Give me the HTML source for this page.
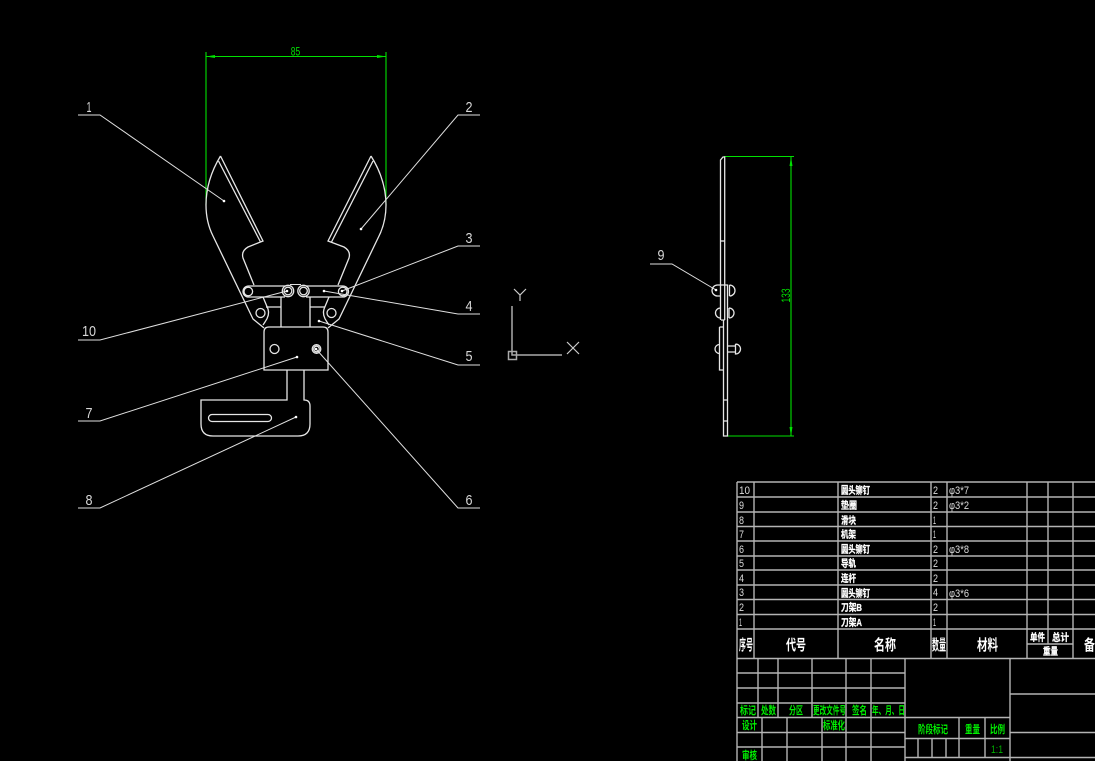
<!DOCTYPE html>
<html><head><meta charset="utf-8"><style>
html,body{margin:0;padding:0;background:#000;width:1095px;height:761px;overflow:hidden}
svg{display:block}
.w{fill:none;stroke:#e6e6e6;stroke-width:1.3}
.l{fill:none;stroke:#e0e0e0;stroke-width:1}
.g{fill:none;stroke:#00e000;stroke-width:1.100}
.t{fill:none;stroke:#b4b4b4;stroke-width:1.400}
text{font-family:"Liberation Sans","Noto Sans CJK SC",sans-serif}
.n{fill:#d8d8d8;font-size:15px}
.c{fill:#fff;font-size:10px;font-weight:700;stroke:#fff;stroke-width:.3}
.h{fill:#fff;font-size:15px;font-weight:700}
.s{fill:#ddd;font-size:11px}
.k{fill:#00f000;font-size:11px;font-weight:700}
</style></head><body>
<svg width="1095" height="761" viewBox="0 0 1095 761" xmlns="http://www.w3.org/2000/svg">
<rect width="1095" height="761" fill="#000"/>

<!-- dimensions -->
<path class="g" d="M206 52V205M386 52V205M206 56.500H386"/>
<path d="M206 56.500l9-1.500v3zM386 56.500l-9-1.500v3z" fill="#00e000"/>
<text x="295.500" y="55.500" text-anchor="middle" textLength="9.500" lengthAdjust="spacingAndGlyphs" style="fill:#00e000;font-size:12px">85</text>
<path class="g" d="M724 156.500H794M727 436H794M791 156.500V436"/>
<path d="M791 157l-1.500 9h3zM791 436l-1.500-9h3z" fill="#00e000"/>
<text transform="translate(790,295.500) rotate(-90)" text-anchor="middle" textLength="14" lengthAdjust="spacingAndGlyphs" style="fill:#00e000;font-size:12px">133</text>

<!-- left jaw -->
<path class="w" d="M220.500 156Q206 180 206 205Q206 222 213 236L253 319L264 328"/>
<path class="w" d="M220.500 156L263 241L248 247Q241 251 243 258L254 285"/>
<path class="w" d="M218.500 161L260.500 242"/>
<path class="w" d="M263 297L268 309Q270 315 265 322L263 325"/>
<circle class="w" cx="260.500" cy="313" r="4.500"/>
<!-- right jaw -->
<path class="w" d="M371 156Q386 180 386 205Q386 222 379 236L339 319L328 328"/>
<path class="w" d="M371 156L328 241L344 247Q351 251 349 258L338 285"/>
<path class="w" d="M373 161L331.500 242"/>
<path class="w" d="M329 297L324 309Q322 315 327 322L329 325"/>
<circle class="w" cx="331.500" cy="313" r="4.500"/>
<!-- links -->
<path class="w" d="M285 286H248.500A5.500 5.500 0 0 0 248.500 297H285"/>
<circle class="w" cx="248.300" cy="291.500" r="4.300"/>
<circle class="w" cx="288" cy="291" r="5.700"/>
<circle class="w" cx="288" cy="291" r="3.800"/>
<path class="w" d="M306 286H343A5.500 5.500 0 0 1 343 297H306"/>
<circle class="w" cx="342.700" cy="291.500" r="4.300"/>
<circle class="w" cx="303.500" cy="291" r="5.700"/>
<circle class="w" cx="303.500" cy="291" r="3.800"/>
<path class="l" d="M290 284.500H301"/>
<!-- stem and block -->
<path class="w" d="M281 297V327M310 297V327M266 307H281M310 307H325"/>
<path class="w" d="M264 370V332Q264 327 269 327H323Q328 327 328 332V370Z"/>
<circle class="w" cx="274.500" cy="349" r="4.500"/>
<circle class="w" cx="316.500" cy="349" r="4.300"/>
<circle class="w" cx="316.500" cy="349" r="2.800"/>
<path class="w" d="M287 370V400H201V424Q201 436 213 436H298Q310 436 310 424V406Q310 400 304 400V370"/>
<rect class="w" x="208.500" y="414.500" width="63" height="7" rx="3.500"/>

<!-- leaders -->
<path class="l" d="M78 115H100L224 201M480 115H458L361 229M480 246H458L342 291M480 314H458L324 291M480 365H458L319 321M480 508H458L316 349M78 421H100L297 357M78 508H100L296 417M78 340H100L287 291M650 264H672L716 290"/>
<g fill="#fff"><circle cx="224" cy="201" r="1.300"/><circle cx="361" cy="229" r="1.300"/><circle cx="342" cy="291" r="1.300"/><circle cx="324" cy="291" r="1.300"/><circle cx="319" cy="321" r="1.300"/><circle cx="316" cy="349" r="1.300"/><circle cx="297" cy="357" r="1.300"/><circle cx="296" cy="417" r="1.300"/><circle cx="287" cy="291" r="1.300"/><circle cx="716" cy="290" r="1.300"/></g>
<g class="n">
<text x="89" y="112" text-anchor="middle" textLength="5" lengthAdjust="spacingAndGlyphs">1</text>
<text x="469" y="112" text-anchor="middle" textLength="7" lengthAdjust="spacingAndGlyphs">2</text>
<text x="469" y="243" text-anchor="middle" textLength="7" lengthAdjust="spacingAndGlyphs">3</text>
<text x="469" y="311" text-anchor="middle" textLength="7" lengthAdjust="spacingAndGlyphs">4</text>
<text x="469" y="361" text-anchor="middle" textLength="7" lengthAdjust="spacingAndGlyphs">5</text>
<text x="469" y="505" text-anchor="middle" textLength="7" lengthAdjust="spacingAndGlyphs">6</text>
<text x="89" y="418" text-anchor="middle" textLength="7" lengthAdjust="spacingAndGlyphs">7</text>
<text x="89" y="505" text-anchor="middle" textLength="7" lengthAdjust="spacingAndGlyphs">8</text>
<text x="89" y="336" text-anchor="middle" textLength="14" lengthAdjust="spacingAndGlyphs">10</text>
<text x="661" y="260" text-anchor="middle" textLength="7" lengthAdjust="spacingAndGlyphs">9</text>
</g>

<!-- UCS -->
<path d="M512 306V355H562M508.500 351.500h8v8h-8z" fill="none" stroke="#aaa" stroke-width="1.500"/>
<path d="M514 289L520 295L526 289M520 295V301M567 342L579 354M579 342L567 354" fill="none" stroke="#ccc" stroke-width="1.200"/>

<!-- side view -->
<path class="w" d="M720.500 320V160L723 157H724.700V320"/>
<path class="w" d="M720.500 241H724.700"/>
<path class="w" d="M723.500 320V436H727.500V285H721"/>
<path class="w" d="M719.500 327H723.500M719.500 327V370H723.500M723.500 400H727.500M723.500 421H727.500M721 320H724.700"/>
<path class="w" d="M717.500 285A5.500 5.500 0 0 0 717.500 296M717.500 285H720.500M717.500 296H720.500"/>
<path class="w" d="M729.500 285A5.500 5.500 0 0 1 729.500 296M729.500 285V296"/>
<path class="w" d="M720.500 308A5 5 0 0 0 720.500 318"/>
<path class="w" d="M729 308A5 5 0 0 1 729 318M729 308V318"/>
<path class="w" d="M719.500 344.500A4.500 4.500 0 0 0 719.500 353.500"/>
<path class="w" d="M727.500 346H735.500M727.500 352H735.500M735.500 344A5 5 0 0 1 735.500 354V344"/>

<!-- parts table -->
<path class="t" d="M737 482H1095M737 497H1095M737 512H1095M737 526.500H1095M737 541H1095M737 556H1095M737 570H1095M737 585H1095M737 599.500H1095M737 614.500H1095M737 629H1095M737 658.500H1095M1027 644H1073"/>
<path class="t" d="M737 482V761M754 482V658M838 482V658M931 482V658M947 482V658M1027 482V658M1048 482V644M1073 482V658"/>
<g class="s">
<text x="739" y="494" textLength="11" lengthAdjust="spacingAndGlyphs">10</text>
<text x="739" y="509" textLength="5" lengthAdjust="spacingAndGlyphs">9</text>
<text x="739" y="524" textLength="5" lengthAdjust="spacingAndGlyphs">8</text>
<text x="739" y="538" textLength="5" lengthAdjust="spacingAndGlyphs">7</text>
<text x="739" y="553" textLength="5" lengthAdjust="spacingAndGlyphs">6</text>
<text x="739" y="567" textLength="5" lengthAdjust="spacingAndGlyphs">5</text>
<text x="739" y="582" textLength="5" lengthAdjust="spacingAndGlyphs">4</text>
<text x="739" y="596" textLength="5" lengthAdjust="spacingAndGlyphs">3</text>
<text x="739" y="611" textLength="5" lengthAdjust="spacingAndGlyphs">2</text>
<text x="739" y="626" textLength="3" lengthAdjust="spacingAndGlyphs">1</text>
<text x="933" y="494" textLength="5" lengthAdjust="spacingAndGlyphs">2</text>
<text x="933" y="509" textLength="5" lengthAdjust="spacingAndGlyphs">2</text>
<text x="933" y="524" textLength="3" lengthAdjust="spacingAndGlyphs">1</text>
<text x="933" y="538" textLength="3" lengthAdjust="spacingAndGlyphs">1</text>
<text x="933" y="553" textLength="5" lengthAdjust="spacingAndGlyphs">2</text>
<text x="933" y="567" textLength="5" lengthAdjust="spacingAndGlyphs">2</text>
<text x="933" y="582" textLength="5" lengthAdjust="spacingAndGlyphs">2</text>
<text x="933" y="596" textLength="5" lengthAdjust="spacingAndGlyphs">4</text>
<text x="933" y="611" textLength="5" lengthAdjust="spacingAndGlyphs">2</text>
<text x="933" y="626" textLength="3" lengthAdjust="spacingAndGlyphs">1</text>
<text x="949" y="494" textLength="20" lengthAdjust="spacingAndGlyphs">φ3*7</text>
<text x="949" y="509" textLength="20" lengthAdjust="spacingAndGlyphs">φ3*2</text>
<text x="949" y="553" textLength="20" lengthAdjust="spacingAndGlyphs">φ3*8</text>
<text x="949" y="597" textLength="20" lengthAdjust="spacingAndGlyphs">φ3*6</text>
</g>
<g class="c">
<text x="841" y="494" textLength="29" lengthAdjust="spacingAndGlyphs">圆头铆钉</text>
<text x="841" y="509" textLength="16" lengthAdjust="spacingAndGlyphs">垫圈</text>
<text x="841" y="524" textLength="15" lengthAdjust="spacingAndGlyphs">滑块</text>
<text x="841" y="538" textLength="15" lengthAdjust="spacingAndGlyphs">机架</text>
<text x="841" y="553" textLength="29" lengthAdjust="spacingAndGlyphs">圆头铆钉</text>
<text x="841" y="567" textLength="15" lengthAdjust="spacingAndGlyphs">导轨</text>
<text x="841" y="582" textLength="15" lengthAdjust="spacingAndGlyphs">连杆</text>
<text x="841" y="597" textLength="29" lengthAdjust="spacingAndGlyphs">圆头铆钉</text>
<text x="841" y="611" textLength="21" lengthAdjust="spacingAndGlyphs">刀架B</text>
<text x="841" y="626" textLength="21" lengthAdjust="spacingAndGlyphs">刀架A</text>
<text x="1030" y="641" textLength="15" lengthAdjust="spacingAndGlyphs">单件</text>
<text x="1052" y="641" textLength="17" lengthAdjust="spacingAndGlyphs">总计</text>
<text x="1043" y="655" textLength="15" lengthAdjust="spacingAndGlyphs">重量</text>
</g>
<g class="h">
<text x="739" y="650" textLength="14" lengthAdjust="spacingAndGlyphs">序号</text>
<text x="786" y="650" textLength="20" lengthAdjust="spacingAndGlyphs">代号</text>
<text x="874" y="650" textLength="22" lengthAdjust="spacingAndGlyphs">名称</text>
<text x="932" y="650" textLength="14" lengthAdjust="spacingAndGlyphs">数量</text>
<text x="977" y="650" textLength="21" lengthAdjust="spacingAndGlyphs">材料</text>
<text x="1084" y="650" textLength="11" lengthAdjust="spacingAndGlyphs">备</text>
</g>

<!-- title block -->
<path class="t" d="M737 673H905M737 688H905M737 703H905M737 717.500H905M737 732.500H905M737 747H905"/>
<path class="t" d="M758 659V717M778 659V717M812 659V717M846 659V761M871 659V761M905 659V761M762 717V761M787 717V761M822 717V761"/>
<path class="t" d="M905 717.500H1010M905 738.500H1010M905 757.500H1095M1010 659V761M959 717V757M985 717V757M918 738V757M932 738V757M946 738V757M1010 694H1095M1010 732.500H1095"/>
<g class="k">
<text x="740" y="714" textLength="16" lengthAdjust="spacingAndGlyphs">标记</text>
<text x="761" y="714" textLength="15" lengthAdjust="spacingAndGlyphs">处数</text>
<text x="789" y="714" textLength="14" lengthAdjust="spacingAndGlyphs">分区</text>
<text x="813" y="714" textLength="33" lengthAdjust="spacingAndGlyphs">更改文件号</text>
<text x="852" y="714" textLength="15" lengthAdjust="spacingAndGlyphs">签名</text>
<text x="872" y="714" textLength="33" lengthAdjust="spacingAndGlyphs">年、月、日</text>
<text x="742" y="729" textLength="15" lengthAdjust="spacingAndGlyphs">设计</text>
<text x="823" y="729" textLength="22" lengthAdjust="spacingAndGlyphs">标准化</text>
<text x="742" y="759" textLength="15" lengthAdjust="spacingAndGlyphs">审核</text>
<text x="918" y="733" textLength="30" lengthAdjust="spacingAndGlyphs">阶段标记</text>
<text x="965" y="733" textLength="15" lengthAdjust="spacingAndGlyphs">重量</text>
<text x="990" y="733" textLength="15" lengthAdjust="spacingAndGlyphs">比例</text>
</g>
<text x="991" y="753" textLength="12" lengthAdjust="spacingAndGlyphs" style="fill:#00b000;font-size:11px">1:1</text>
</svg>
</body></html>
